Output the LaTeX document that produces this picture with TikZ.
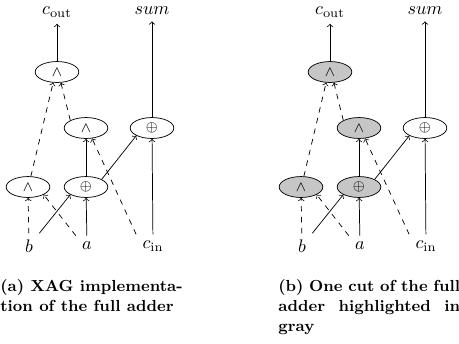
\documentclass[tikz,border=0pt]{standalone}
\usepackage{amssymb}
\usepackage{amsmath}
\usetikzlibrary{shapes.geometric}
\tikzset{%
    gate/.style={%
        draw, shape=ellipse, inner sep=0pt,
        minimum width=24pt, minimum height=11.5pt, font=\footnotesize
    },
    cut/.style={%
        gate, fill=gray!45
    },
    caption/.style={%
        anchor=north west, inner sep=0pt,
        font=\fontsize{8.8}{11}\selectfont\bfseries
    }
}

\begin{document}
\begin{tikzpicture}[x=0.55pt, y=-0.55pt]
    \useasboundingbox (0,0) rectangle (459,343);

    % (a) the full adder
    \node[gate] (and3) at (57,72) {$\wedge$};
    \node[gate] (and2) at (86,128) {$\wedge$};
    \node[gate] (xor2) at (152,128) {$\oplus$};
    \node[gate] (and1) at (28,187) {$\wedge$};
    \node[gate] (xor1) at (86,187) {$\oplus$};

    \node (b) at (29,246) {$b$};
    \node (a) at (87,246) {$a$};
    \node (cin) at (153,246) {$c_{\text{in}}$};
    \node (cout) at (57,12) {$c_{\text{out}}$};
    \node (sum) at (152,11) {$sum$};

    \draw[->] (and3) -- (cout);
    \draw[->] (xor2) -- (sum);
    \draw[->] (xor1) -- (and2);
    \draw[->] (xor1.north east) -- (xor2.south west);
    \draw[->] (b.north east) -- (xor1.south west);
    \draw[->] (a) -- (xor1);
    \draw[->] (cin) -- (xor2);
    \draw[dashed, ->] (b) -- (and1);
    \draw[dashed, ->] (a.north west) -- (and1.south east);
    \draw[dashed, ->] (and1.75) -- (and3.250);
    \draw[dashed, ->] (and2.north west) -- (and3.290);
    \draw[dashed, ->] (cin.north west) -- (and2.300);

    % (b) the same adder with the cut in gray
    \node[cut] (and3r) at (330,72) {$\wedge$};
    \node[cut] (and2r) at (359,128) {$\wedge$};
    \node[gate] (xor2r) at (425,128) {$\oplus$};
    \node[cut] (and1r) at (301,187) {$\wedge$};
    \node[cut] (xor1r) at (359,187) {$\oplus$};

    \node (br) at (302,246) {$b$};
    \node (ar) at (360,246) {$a$};
    \node (cinr) at (426,246) {$c_{\text{in}}$};
    \node (coutr) at (330,12) {$c_{\text{out}}$};
    \node (sumr) at (425,11) {$sum$};

    \draw[->] (and3r) -- (coutr);
    \draw[->] (xor2r) -- (sumr);
    \draw[->] (xor1r) -- (and2r);
    \draw[->] (xor1r.north east) -- (xor2r.south west);
    \draw[->] (br.north east) -- (xor1r.south west);
    \draw[->] (ar) -- (xor1r);
    \draw[->] (cinr) -- (xor2r);
    \draw[dashed, ->] (br) -- (and1r);
    \draw[dashed, ->] (ar.north west) -- (and1r.south east);
    \draw[dashed, ->] (and1r.75) -- (and3r.250);
    \draw[dashed, ->] (and2r.north west) -- (and3r.290);
    \draw[dashed, ->] (cinr.north west) -- (and2r.300);

    \node[caption, align=left] (capa) at (0,279)
        {(a) XAG implementa-\\tion of the full adder};
    \node[caption, align=justify, text width=100pt] (capb) at (278,279)
        {(b) One cut of the full\linebreak adder highlighted in\linebreak gray};
\end{tikzpicture}
\end{document}
